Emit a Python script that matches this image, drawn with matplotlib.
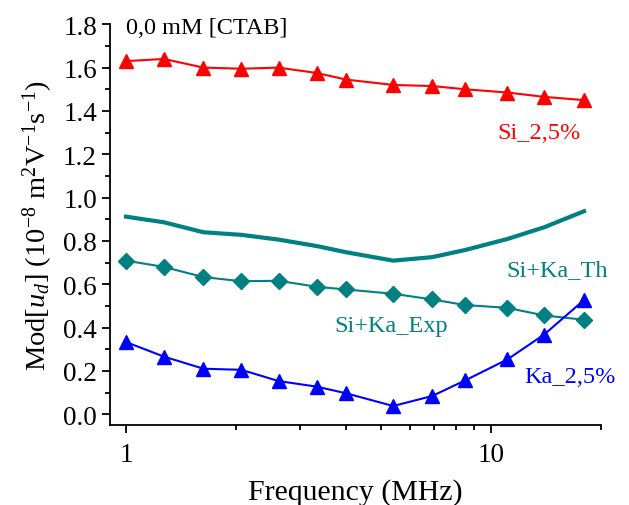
import numpy as np
import matplotlib
matplotlib.use('Agg')
import matplotlib.pyplot as plt
from matplotlib.ticker import FixedLocator, NullFormatter, MultipleLocator

freq = [1.0, 1.27, 1.63, 2.07, 2.62, 3.34, 4.0, 5.4, 6.9, 8.5, 11.1, 14.0, 18.0]
si_25 = [1.63, 1.64, 1.60, 1.595, 1.60, 1.575, 1.545, 1.52, 1.515, 1.50, 1.485, 1.465, 1.45]
sika_exp = [0.709, 0.68, 0.633, 0.614, 0.616, 0.588, 0.576, 0.556, 0.53, 0.504, 0.491, 0.456, 0.436]
sika_th = [0.912, 0.886, 0.84, 0.828, 0.806, 0.776, 0.748, 0.709, 0.725, 0.758, 0.809, 0.863, 0.937]
ka_25 = [0.333, 0.266, 0.21, 0.205, 0.153, 0.127, 0.097, 0.038, 0.084, 0.156, 0.253, 0.368, 0.527]

plt.rcParams['font.family'] = ['Liberation Serif', 'DejaVu Serif']
plt.rcParams['mathtext.fontset'] = 'custom'
plt.rcParams['mathtext.rm'] = 'Liberation Serif'
plt.rcParams['mathtext.it'] = 'Liberation Serif:italic'

teal = '#008080'

fig = plt.figure(figsize=(6.29, 5.06), dpi=100)
ax = fig.add_axes([0.175, 0.158, 0.78, 0.792])

ax.plot(freq, si_25, color='red', lw=1.5, marker='^', ms=10)
ax.plot(freq, sika_th, color=teal, lw=3)
ax.plot(freq, sika_exp, color=teal, lw=1.5, marker='D', ms=8)
ax.plot(freq, ka_25, color='blue', lw=1.5, marker='^', ms=10)

ax.set_xscale('log')
ax.set_xlim(0.904, 20)
ax.set_ylim(-0.05, 1.8)

ax.xaxis.set_major_locator(FixedLocator([1, 10]))
ax.xaxis.set_minor_locator(FixedLocator([2, 3, 4, 5, 6, 7, 8, 9, 20]))
ax.xaxis.set_minor_formatter(NullFormatter())
ax.set_xticklabels(['1', '10'])
ax.yaxis.set_major_locator(MultipleLocator(0.2))
ax.yaxis.set_minor_locator(MultipleLocator(0.1))
ax.yaxis.set_major_formatter(plt.FuncFormatter(lambda v, p: '%.1f' % v))

ax.spines['top'].set_visible(False)
ax.spines['right'].set_visible(False)
for s in ['left', 'bottom']:
    ax.spines[s].set_linewidth(1.3)
ax.tick_params(axis='y', which='major', direction='out', length=6, width=1.3, labelsize=19.5)
ax.tick_params(axis='y', which='minor', direction='out', length=3.5, width=1.3)
ax.tick_params(axis='x', which='major', direction='out', length=6, width=1.3, labelsize=19.5, pad=6)
ax.tick_params(axis='x', which='minor', direction='out', length=3.5, width=1.3)

ax.set_xlabel('Frequency (MHz)', fontsize=21.5, labelpad=8)
ax.set_ylabel(r'Mod[$\mathit{u}_\mathit{d}$] (10$^{-8}$ m$^{2}$V$^{-1}$s$^{-1}$)', fontsize=20.5, labelpad=6)

ax.text(0.033, 0.993, '0,0 mM [CTAB]', transform=ax.transAxes, fontsize=17.5, va='center', ha='left')
ax.text(0.79, 0.731, 'Si_2,5%', transform=ax.transAxes, fontsize=17.5, va='center', ha='left', color='red')
ax.text(0.807, 0.389, 'Si+Ka_Th', transform=ax.transAxes, fontsize=17.5, va='center', ha='left', color=teal)
ax.text(0.458, 0.249, 'Si+Ka_Exp', transform=ax.transAxes, fontsize=17.5, va='center', ha='left', color=teal)
ax.text(0.845, 0.12, 'Ka_2,5%', transform=ax.transAxes, fontsize=17.5, va='center', ha='left', color='blue')

fig.savefig('out.png', dpi=100)
